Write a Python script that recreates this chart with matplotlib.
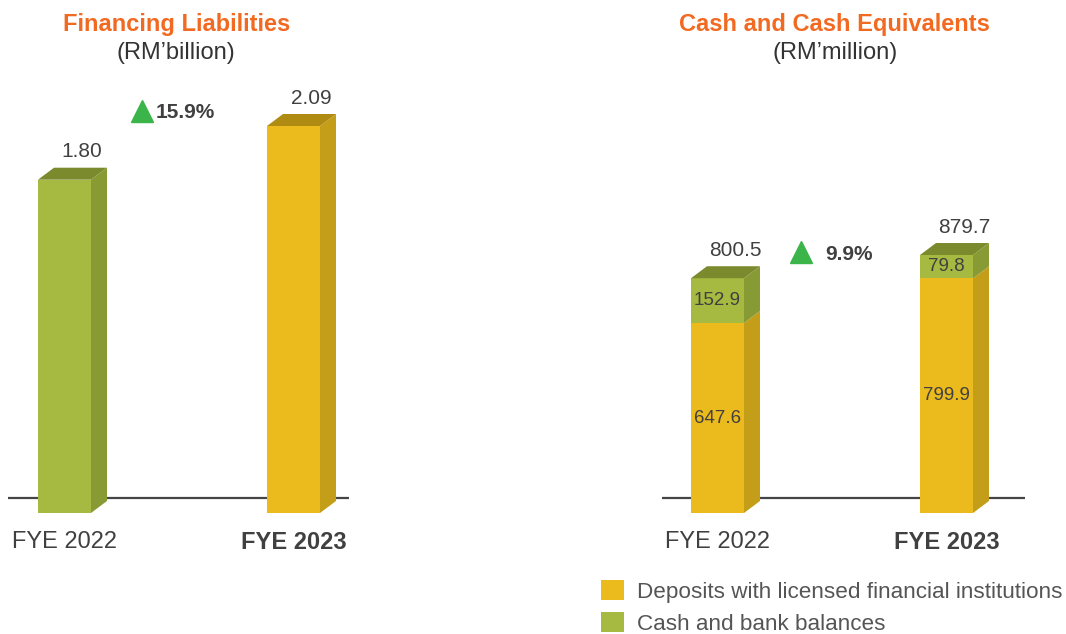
import matplotlib
matplotlib.use('Agg')
import matplotlib.pyplot as plt
from matplotlib.patches import Polygon, Patch
from matplotlib.lines import Line2D
from matplotlib.transforms import IdentityTransform, ScaledTranslation

plt.rcParams['font.family'] = ['Liberation Sans', 'DejaVu Sans']

# ---------------- data ----------------
years = ['FYE 2022', 'FYE 2023']
fin_liab = [1.80, 2.09]
fin_change = '15.9%'
deposits = [647.6, 799.9]
cash_bank = [152.9, 79.8]
cce_total = [800.5, 879.7]
cce_change = '9.9%'
legend_labels = ['Deposits with licensed financial institutions',
                 'Cash and bank balances']

# ---------------- style ----------------
W, H = 1066, 634
fig = plt.figure(figsize=(W / 100, H / 100), dpi=100)

GREEN = dict(front='#A6B941', side='#879A33', top='#7B8A2D')
YELLOW = dict(front='#EBBA1C', side='#C49E19', top='#AF8B11')
TXT = '#404040'
ORANGE = '#F26A21'
TRI = '#3BB54A'
DX, DY = 16, 12
BAR_W = 53 / 229


def make_ax(x0, x1, ybot, ytop):
    return fig.add_axes([x0 / W, 1 - ybot / H, (x1 - x0) / W, (ybot - ytop) / H])


def style_ax(ax, xlim, ylim):
    ax.set_xlim(*xlim)
    ax.set_ylim(*ylim)
    for s in ax.spines.values():
        s.set_visible(False)
    ax.set_yticks([])
    ax.set_xticks(range(len(years)))
    ax.set_xticklabels(years)
    ax.tick_params(axis='x', length=0, pad=13, labelsize=17, labelcolor=TXT)
    ax.get_xticklabels()[1].set_fontweight('bold')
    ln = ax.axhline(0, color='#454545', lw=1.6, zorder=1)
    ln.set_transform(ax.get_yaxis_transform()
                     + ScaledTranslation(0, 15 / 100, fig.dpi_scale_trans))
    ax.patch.set_alpha(0)


def bar3d(ax, x, bottom, height, colors, top_face=True):
    ax.bar(x, height, BAR_W, bottom=bottom, color=colors['front'],
           linewidth=0, zorder=3)
    T = ax.transData
    xl, yb = T.transform((x - BAR_W / 2, bottom))
    xr, yt = T.transform((x + BAR_W / 2, bottom + height))
    fig.add_artist(Polygon([(xr, yb), (xr + DX, yb + DY), (xr + DX, yt + DY), (xr, yt)],
                           closed=True, transform=IdentityTransform(),
                           facecolor=colors['side'], edgecolor='none', zorder=3))
    if top_face:
        fig.add_artist(Polygon([(xl, yt), (xl + DX, yt + DY), (xr + DX, yt + DY), (xr, yt)],
                               closed=True, transform=IdentityTransform(),
                               facecolor=colors['top'], edgecolor='none', zorder=3))


# ---------------- left: Financing Liabilities ----------------
axL = make_ax(8, 349, 513, 113)
style_ax(axL, (-56.5 / 229, (341 - 56.5) / 229), (0, max(fin_liab) * 400 / 387))
fin_colors = [GREEN, YELLOW]
for i, v in enumerate(fin_liab):
    bar3d(axL, i, 0, v, fin_colors[i])
    axL.annotate(f'{v:.2f}', xy=(i, v), xytext=(12.6, 20), textcoords='offset points',
                 ha='center', va='center', fontsize=15, color=TXT, zorder=6)

fig.text(176.5 / W, 1 - 25 / H, 'Financing Liabilities', ha='center', va='center',
         fontsize=17, fontweight='bold', color=ORANGE)
fig.text(176 / W, 1 - 53 / H, '(RM\u2019billion)', ha='center', va='center',
         fontsize=17, color='#333333')
fig.add_artist(Line2D([142 / W], [1 - 111 / H], marker='^', markersize=16, color=TRI,
                      linestyle='none', transform=fig.transFigure))
fig.text(156 / W, 1 - 113 / H, fin_change, ha='left', va='center', fontsize=15,
         fontweight='bold', color=TXT)

# ---------------- right: Cash and Cash Equivalents ----------------
axR = make_ax(662, 1025, 513, 113)
style_ax(axR, (-55.5 / 229, (363 - 55.5) / 229), (0, max(cce_total) * 400 / 258))
for i in range(len(years)):
    bar3d(axR, i, 0, deposits[i], YELLOW, top_face=False)
    bar3d(axR, i, deposits[i], cash_bank[i], GREEN, top_face=True)
    axR.text(i, deposits[i] / 2, f'{deposits[i]:.1f}', ha='center', va='center',
             fontsize=13.5, color=TXT, zorder=6)
    axR.text(i, deposits[i] + cash_bank[i] / 2, f'{cash_bank[i]:.1f}', ha='center',
             va='center', fontsize=13.5, color=TXT, zorder=6)
    axR.annotate(f'{cce_total[i]:.1f}', xy=(i, cce_total[i]), xytext=(12.6, 20),
                 textcoords='offset points', ha='center', va='center', fontsize=15,
                 color=TXT, zorder=6)

fig.text(834 / W, 1 - 25 / H, 'Cash and Cash Equivalents', ha='center', va='center',
         fontsize=17, fontweight='bold', color=ORANGE)
fig.text(835 / W, 1 - 53 / H, '(RM\u2019million)', ha='center', va='center',
         fontsize=17, color='#333333')
fig.add_artist(Line2D([801 / W], [1 - 252 / H], marker='^', markersize=16, color=TRI,
                      linestyle='none', transform=fig.transFigure))
fig.text(825 / W, 1 - 255 / H, cce_change, ha='left', va='center', fontsize=15,
         fontweight='bold', color=TXT)

fig.legend(handles=[Patch(facecolor=YELLOW['front']), Patch(facecolor=GREEN['front'])],
           labels=legend_labels, loc='upper left', bbox_to_anchor=(601 / W, 1 - 580 / H),
           frameon=False, fontsize=16.2, labelcolor='#555555', handlelength=1.0,
           handleheight=1.0, handletextpad=0.6, labelspacing=0.42, borderpad=0,
           borderaxespad=0)

fig.savefig('out.png', dpi=100)
